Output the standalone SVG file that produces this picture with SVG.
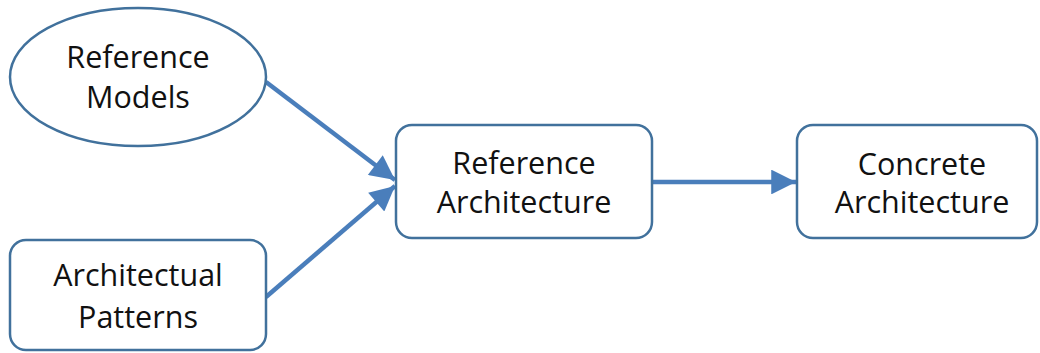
<svg xmlns="http://www.w3.org/2000/svg" width="1040" height="353" viewBox="0 0 1040 353">
<style>
.n{fill:#fff;stroke:#41719c;stroke-width:2.5}
.t{font-family:"Open Sans",Lato,sans-serif;font-size:30.5px;fill:#111;text-anchor:middle}
.c{stroke:#4a7ebb;stroke-width:4.5;fill:none}
</style>
<defs>
<marker id="ah" viewBox="0 0 10 10" refX="10" refY="5" markerWidth="6.5" markerHeight="5.5" markerUnits="strokeWidth" orient="auto">
<path d="M0,0 L10,5 L0,10 Z" fill="#4a7ebb"/>
</marker>
</defs>
<rect width="1040" height="353" fill="#fff"/>
<g id="connectors">
<line class="c" x1="266" y1="82" x2="395" y2="180" marker-end="url(#ah)"/>
<line class="c" x1="266" y1="297" x2="395" y2="186" marker-end="url(#ah)"/>
<line class="c" x1="653" y1="182" x2="796" y2="182" marker-end="url(#ah)"/>
</g>
<g id="reference-models">
<ellipse class="n" cx="138" cy="77" rx="128" ry="69"/>
<text class="t" x="138" y="68">Reference</text>
<text class="t" x="138" y="108">Models</text>
</g>
<g id="architectural-patterns">
<rect class="n" x="10" y="240" width="256" height="110" rx="16"/>
<text class="t" x="138" y="286">Architectual</text>
<text class="t" x="138" y="328">Patterns</text>
</g>
<g id="reference-architecture">
<rect class="n" x="396" y="125" width="256" height="113" rx="16"/>
<text class="t" x="524" y="174">Reference</text>
<text class="t" x="524" y="213">Architecture</text>
</g>
<g id="concrete-architecture">
<rect class="n" x="797" y="125" width="240" height="113" rx="16"/>
<text class="t" x="922" y="175">Concrete</text>
<text class="t" x="922" y="213">Architecture</text>
</g>
</svg>
